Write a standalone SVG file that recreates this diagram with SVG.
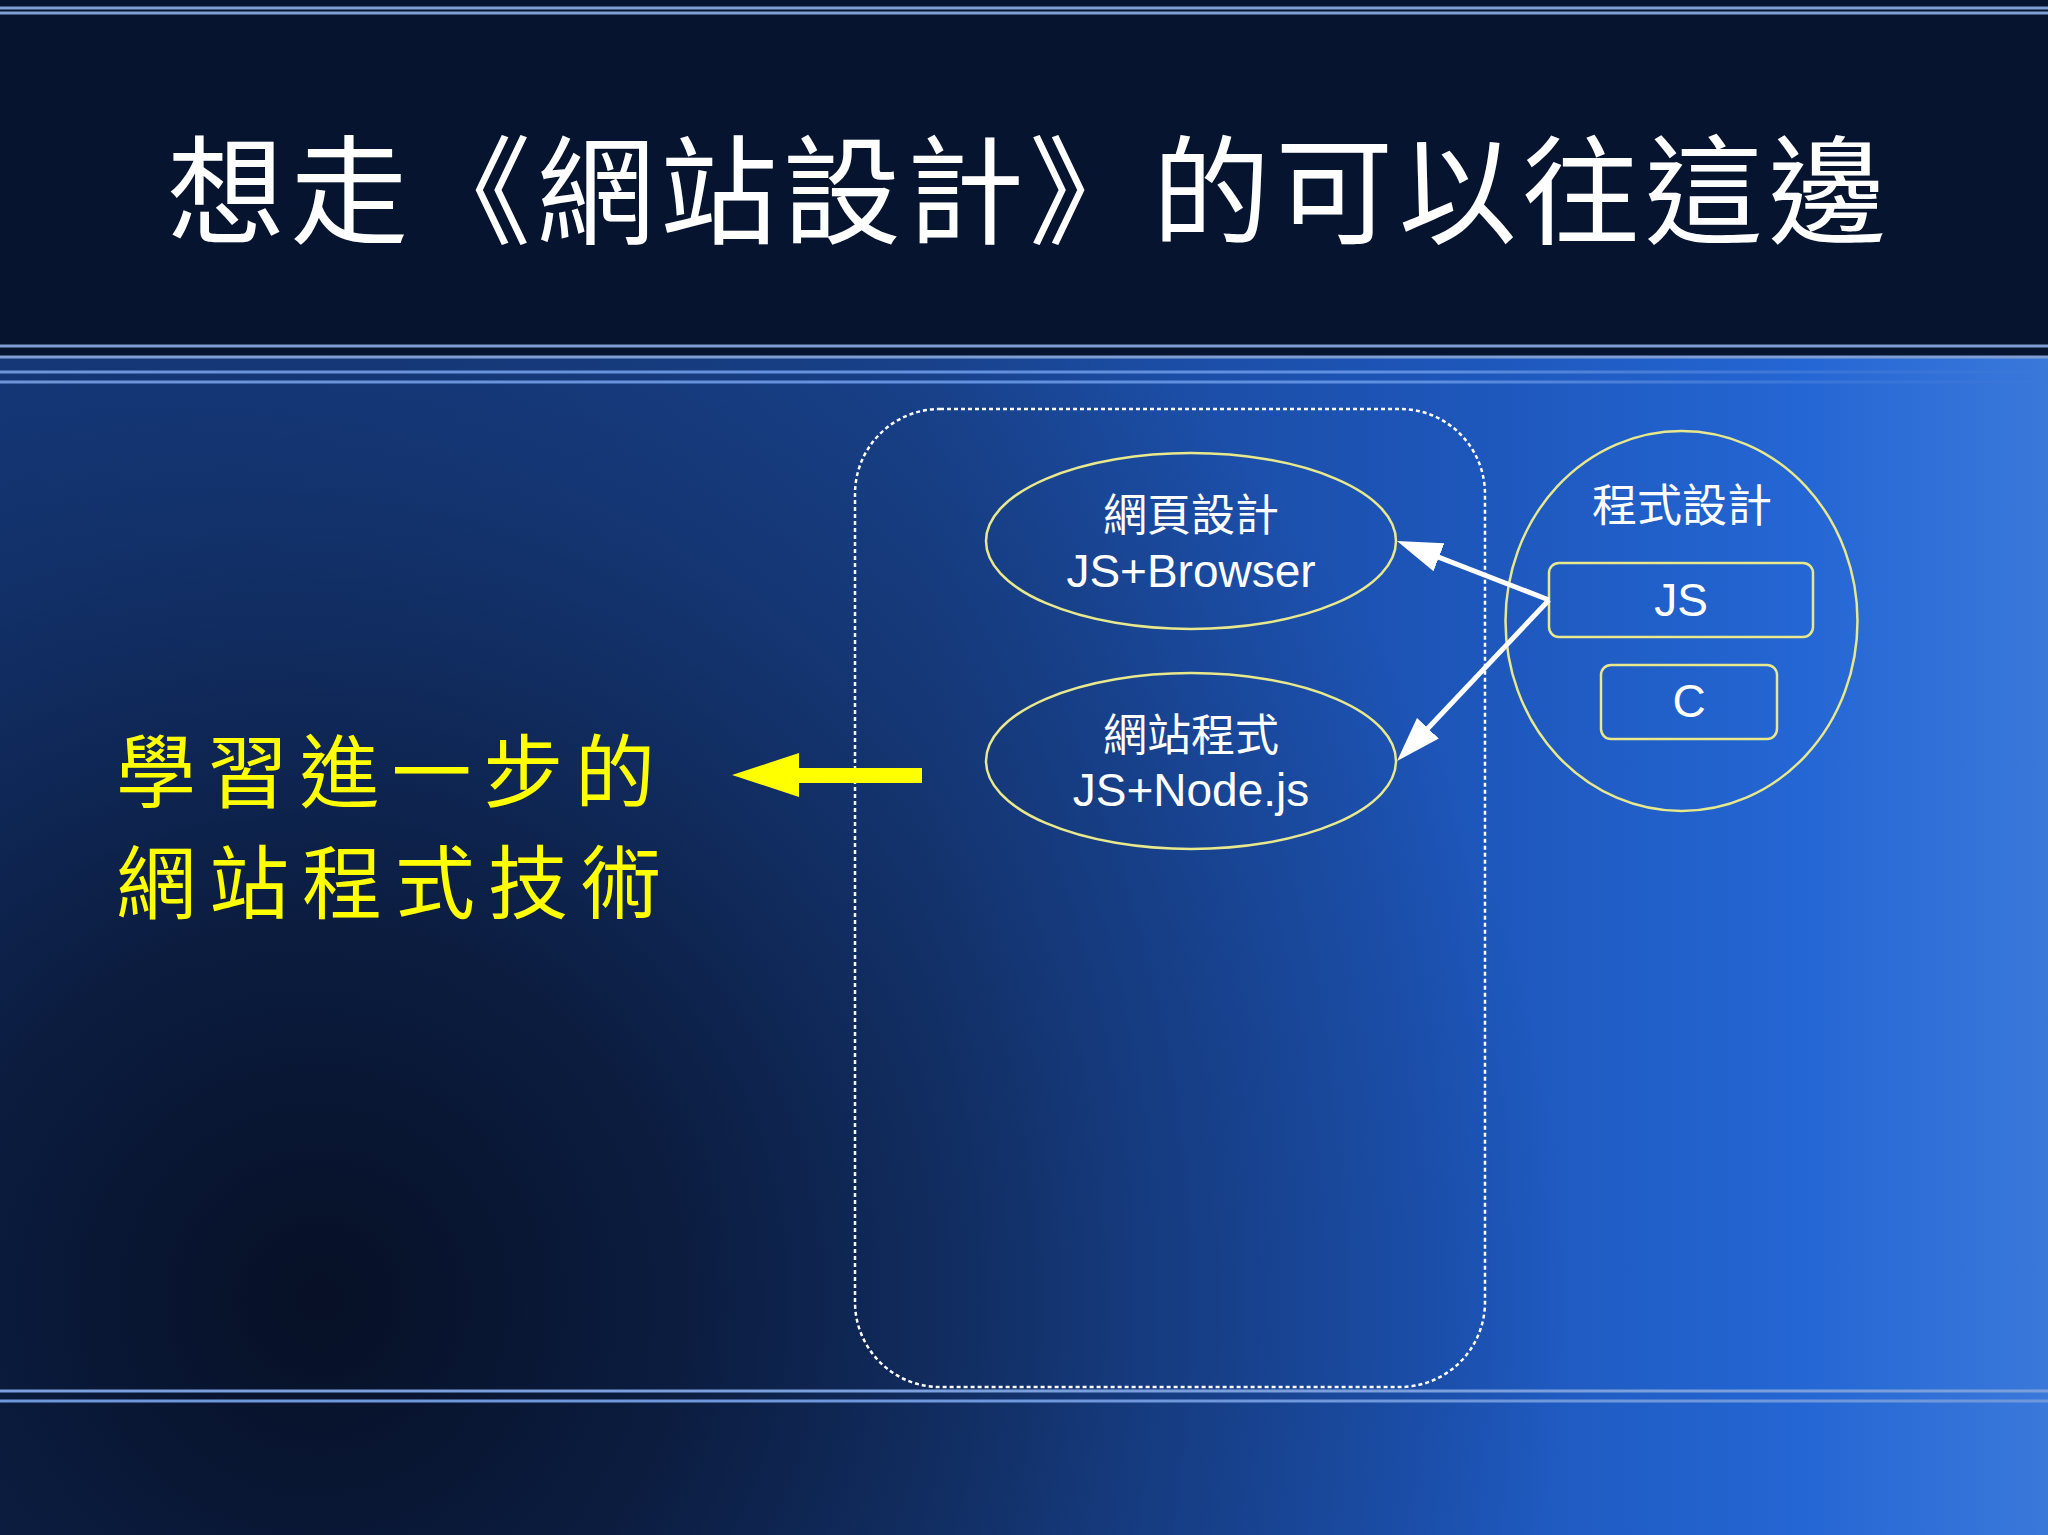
<svg xmlns="http://www.w3.org/2000/svg" width="2048" height="1535" viewBox="0 0 2048 1535">
  <defs>
    <linearGradient id="bodyLin" x1="0" y1="0" x2="2048" y2="0" gradientUnits="userSpaceOnUse">
      <stop offset="0" stop-color="#173f88"/>
      <stop offset="0.45" stop-color="#1a4694"/>
      <stop offset="0.7" stop-color="#1d55b8"/>
      <stop offset="0.88" stop-color="#2466d4"/>
      <stop offset="1" stop-color="#3a78da"/>
    </linearGradient>
    <radialGradient id="dark" cx="320" cy="1300" r="1250" gradientUnits="userSpaceOnUse">
      <stop offset="0" stop-color="#060e22" stop-opacity="0.97"/>
      <stop offset="0.3" stop-color="#08132c" stop-opacity="0.8"/>
      <stop offset="0.65" stop-color="#0a1836" stop-opacity="0.35"/>
      <stop offset="1" stop-color="#0a1836" stop-opacity="0"/>
    </radialGradient>
    <linearGradient id="hl" x1="0" y1="0" x2="2048" y2="0" gradientUnits="userSpaceOnUse">
      <stop offset="0" stop-color="#6f95d8"/>
      <stop offset="0.7" stop-color="#5d8ee0"/>
      <stop offset="1" stop-color="#5d8ee0" stop-opacity="0"/>
    </linearGradient>
    <marker id="ah" viewBox="0 0 45 30" refX="35" refY="15" markerWidth="45" markerHeight="30" markerUnits="userSpaceOnUse" orient="auto">
      <path d="M0,0 L45,15 L0,30 z" fill="#ffffff"/>
    </marker>
    <style>
      .cjk { font-family: "Noto Sans CJK TC", "Noto Sans CJK SC", sans-serif; }
      .lat { font-family: "Liberation Sans", Arial, sans-serif; }
      .lbl { fill: #ffffff; text-anchor: middle; }
      .node { fill: none; stroke: #e8e88c; stroke-width: 2.5; }
      .sep { stroke: #7f9fd4; stroke-width: 3; }
      .conn { stroke: #ffffff; stroke-width: 5; fill: none; }
    </style>
  </defs>

  <!-- background -->
  <rect x="0" y="0" width="2048" height="1535" fill="url(#bodyLin)"/>
  <rect x="0" y="0" width="2048" height="1535" fill="url(#dark)"/>
  <rect x="0" y="0" width="2048" height="356" fill="#071430"/>
  <line class="sep" x1="0" y1="8" x2="2048" y2="8" stroke-width="2"/>
  <line class="sep" x1="0" y1="13" x2="2048" y2="13" stroke-width="2"/>
  <line class="sep" x1="0" y1="346" x2="2048" y2="346"/>
  <line class="sep" x1="0" y1="357" x2="2048" y2="357" stroke="#4d7fd8"/>
  <line x1="0" y1="372" x2="2048" y2="372" stroke="url(#hl)" stroke-width="3"/>
  <line x1="0" y1="382" x2="2048" y2="382" stroke="url(#hl)" stroke-width="3"/>
  <line x1="0" y1="1391" x2="2048" y2="1391" stroke="#7a9fdc" stroke-width="3"/>
  <line x1="0" y1="1401" x2="2048" y2="1401" stroke="#6f98dc" stroke-width="3"/>

  <!-- title -->
  <text id="title" class="cjk" x="167" y="235" font-size="118" fill="#ffffff" textLength="1719" lengthAdjust="spacing">想走《網站設計》的可以往這邊</text>

  <!-- left yellow text -->
  <g id="note">
    <text class="cjk" x="116" y="801" font-size="80" fill="#ffff00" textLength="539" lengthAdjust="spacing">學習進一步的</text>
    <text class="cjk" x="116" y="912" font-size="80" fill="#ffff00" textLength="545" lengthAdjust="spacing">網站程式技術</text>
  </g>

  <!-- dashed container -->
  <g id="web-group">
    <rect x="855" y="409" width="630" height="978" rx="85" ry="85" fill="none" stroke="#ffffff" stroke-width="2.5" stroke-dasharray="4 3"/>
  </g>

  <g id="node-webpage">
    <ellipse class="node" cx="1191" cy="541" rx="205" ry="88"/>
    <text class="cjk lbl" x="1191" y="531" font-size="44">網頁設計</text>
    <text class="lat lbl" x="1191" y="587" font-size="46">JS+Browser</text>
  </g>

  <g id="node-website">
    <ellipse class="node" cx="1191" cy="761" rx="205" ry="88"/>
    <text class="cjk lbl" x="1191" y="751" font-size="44">網站程式</text>
    <text class="lat lbl" x="1191" y="806" font-size="46">JS+Node.js</text>
  </g>

  <g id="node-programming">
    <ellipse class="node" cx="1681.5" cy="621" rx="176" ry="190"/>
    <text class="cjk lbl" x="1682" y="522" font-size="45">程式設計</text>
  </g>

  <g id="node-js">
    <rect class="node" x="1549" y="563" width="264" height="74" rx="10" ry="10"/>
    <text class="lat lbl" x="1681" y="616" font-size="46">JS</text>
  </g>

  <g id="node-c">
    <rect class="node" x="1601" y="665" width="176" height="74" rx="10" ry="10"/>
    <text class="lat lbl" x="1689" y="717" font-size="46">C</text>
  </g>

  <!-- connectors -->
  <g id="connectors">
    <line class="conn" x1="1549" y1="600" x2="1406.3" y2="544.6" marker-end="url(#ah)"/>
    <line class="conn" x1="1549" y1="600" x2="1403.9" y2="753.7" marker-end="url(#ah)"/>
    <polygon id="yellow-arrow" points="732,775 799,753 799,768 922,768 922,783 799,783 799,797" fill="#ffff00"/>
  </g>
</svg>
